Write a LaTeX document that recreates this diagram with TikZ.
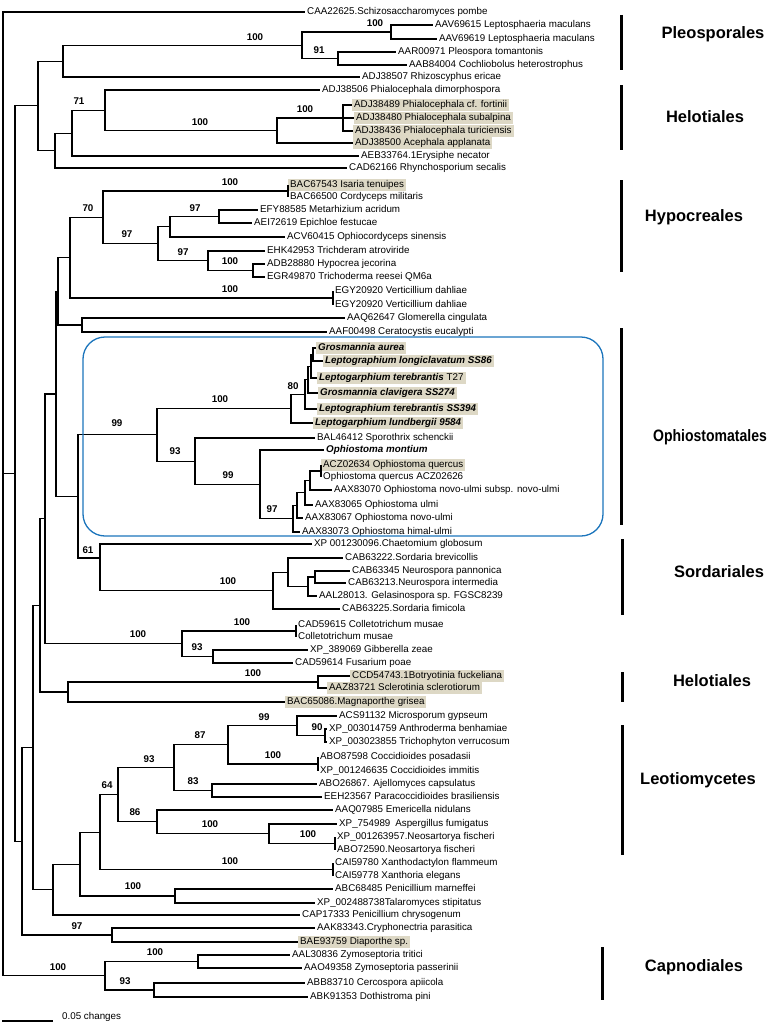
\documentclass[tikz,border=0pt]{standalone}
\usepackage{fontspec}
\setmainfont{Liberation Sans}
\usepackage{xcolor}
\usepackage{tikz}

\definecolor{hlbeige}{RGB}{221,216,197}
\definecolor{boxblue}{RGB}{28,117,188}

\tikzset{
  taxon/.style={anchor=west,inner xsep=2pt,inner ysep=1.6pt,text height=7.2pt,text depth=2.2pt,font=\fontsize{9.8}{11}\selectfont},
  taxonhl/.style={taxon,fill=hlbeige},
  boot/.style={inner sep=0pt,font=\fontsize{9.8}{11}\selectfont\bfseries},
  clade/.style={inner sep=0pt,font=\fontsize{16.5}{19}\selectfont\bfseries},
  branch/.style={line width=1.1pt},
  cladebar/.style={line width=3pt},
}

\begin{document}
\begin{tikzpicture}[x=1pt,y=-1pt]
\useasboundingbox (0,0) rectangle (774,1025);

% taxa
\node[taxon] (t1) at (305,12) {CAA22625.Schizosaccharomyces pombe};
\node[taxon] (t2) at (433,25) {AAV69615 Leptosphaeria maculans};
\node[taxon] (t3) at (437,39) {AAV69619 Leptosphaeria maculans};
\node[taxon] (t4) at (396,52) {AAR00971 Pleospora tomantonis};
\node[taxon] (t5) at (407,65) {AAB84004 Cochliobolus heterostrophus};
\node[taxon] (t6) at (360,77) {ADJ38507 Rhizoscyphus ericae};
\node[taxon] (t7) at (320,90) {ADJ38506 Phialocephala dimorphospora};
\node[taxonhl] (t8) at (352,105) {ADJ38489 Phialocephala cf. fortinii};
\node[taxonhl] (t9) at (354,118) {ADJ38480 Phialocephala subalpina};
\node[taxonhl] (t10) at (353,131) {ADJ38436 Phialocephala turiciensis};
\node[taxonhl] (t11) at (353,143) {ADJ38500 Acephala applanata};
\node[taxon] (t12) at (359,156) {AEB33764.1Erysiphe necator};
\node[taxon] (t13) at (347,168) {CAD62166 Rhynchosporium secalis};
\node[taxonhl] (t14) at (288,185) {BAC67543 Isaria tenuipes};
\node[taxon] (t15) at (288,197) {BAC66500 Cordyceps militaris};
\node[taxon] (t16) at (258,210) {EFY88585 Metarhizium acridum};
\node[taxon] (t17) at (252,223) {AEI72619 Epichloe festucae};
\node[taxon] (t18) at (285,237) {ACV60415 Ophiocordyceps sinensis};
\node[taxon] (t19) at (265,251) {EHK42953 Trichderam atroviride};
\node[taxon] (t20) at (265,264) {ADB28880 Hypocrea jecorina};
\node[taxon] (t21) at (265,277) {EGR49870 Trichoderma reesei QM6a};
\node[taxon] (t22) at (333,291) {EGY20920 Verticillium dahliae};
\node[taxon] (t23) at (333,305) {EGY20920 Verticillium dahliae};
\node[taxon] (t24) at (345,318) {AAQ62647 Glomerella cingulata};
\node[taxon] (t25) at (327,332) {AAF00498 Ceratocystis eucalypti};
\node[taxonhl] (t26) at (316,348) {\textbf{\textit{Grosmannia aurea}}};
\node[taxonhl] (t27) at (323,361) {\textbf{\textit{Leptographium longiclavatum SS86}}};
\node[taxonhl] (t28) at (317,378) {\textbf{\textit{Leptogarphium terebrantis}} T27};
\node[taxonhl] (t29) at (318,393) {\textbf{\textit{Grosmannia clavigera SS274}}};
\node[taxonhl] (t30) at (317,409) {\textbf{\textit{Leptographium terebrantis SS394}}};
\node[taxonhl] (t31) at (313,423) {\textbf{\textit{Leptogarphium lundbergii 9584}}};
\node[taxon] (t32) at (315,438) {BAL46412 Sporothrix schenckii};
\node[taxon] (t33) at (324,450) {\textbf{\textit{Ophiostoma montium}}};
\node[taxonhl] (t34) at (321,465) {ACZ02634 Ophiostoma quercus};
\node[taxon] (t35) at (321,477) {Ophiostoma quercus ACZ02626};
\node[taxon] (t36) at (332,490) {AAX83070 Ophiostoma novo-ulmi subsp. novo-ulmi};
\node[taxon] (t37) at (313,505) {AAX83065 Ophiostoma ulmi};
\node[taxon] (t38) at (303,518) {AAX83067 Ophiostoma novo-ulmi};
\node[taxon] (t39) at (300,532) {AAX83073 Ophiostoma himal-ulmi};
\node[taxon] (t40) at (312,544) {XP 001230096.Chaetomium globosum};
\node[taxon] (t41) at (343,558) {CAB63222.Sordaria brevicollis};
\node[taxon] (t42) at (350,571) {CAB63345 Neurospora pannonica};
\node[taxon] (t43) at (346,583) {CAB63213.Neurospora intermedia};
\node[taxon] (t44) at (317,596) {AAL28013. Gelasinospora sp. FGSC8239};
\node[taxon] (t45) at (340,609) {CAB63225.Sordaria fimicola};
\node[taxon] (t46) at (296,625) {CAD59615 Colletotrichum musae};
\node[taxon] (t47) at (296,637) {Colletotrichum musae};
\node[taxon] (t48) at (308,650) {XP\_389069 Gibberella zeae};
\node[taxon] (t49) at (293,663) {CAD59614 Fusarium poae};
\node[taxonhl] (t50) at (350,676) {CCD54743.1Botryotinia fuckeliana};
\node[taxonhl] (t51) at (327,688) {AAZ83721 Sclerotinia sclerotiorum};
\node[taxonhl] (t52) at (285,702) {BAC65086.Magnaporthe grisea};
\node[taxon] (t53) at (337,716) {ACS91132 Microsporum gypseum};
\node[taxon] (t54) at (327,729) {XP\_003014759 Anthroderma benhamiae};
\node[taxon] (t55) at (327,742) {XP\_003023855 Trichophyton verrucosum};
\node[taxon] (t56) at (318,757) {ABO87598 Coccidioides posadasii};
\node[taxon] (t57) at (318,771) {XP\_001246635 Coccidioides immitis};
\node[taxon] (t58) at (317,784) {ABO26867. Ajellomyces capsulatus};
\node[taxon] (t59) at (322,797) {EEH23567 Paracoccidioides brasiliensis};
\node[taxon] (t60) at (333,810) {AAQ07985 Emericella nidulans};
\node[taxon] (t61) at (337,824) {XP\_754989\hspace{0.5em}Aspergillus fumigatus};
\node[taxon] (t62) at (335,837) {XP\_001263957.Neosartorya fischeri};
\node[taxon] (t63) at (335,850) {ABO72590.Neosartorya fischeri};
\node[taxon] (t64) at (333,863) {CAI59780 Xanthodactylon flammeum};
\node[taxon] (t65) at (333,876) {CAI59778 Xanthoria elegans};
\node[taxon] (t66) at (333,889) {ABC68485 Penicillium marneffei};
\node[taxon] (t67) at (315,903) {XP\_002488738Talaromyces stipitatus};
\node[taxon] (t68) at (300,915) {CAP17333 Penicillium chrysogenum};
\node[taxon] (t69) at (315,928) {AAK83343.Cryphonectria parasitica};
\node[taxonhl] (t70) at (298,942) {BAE93759 Diaporthe sp.};
\node[taxon] (t71) at (290,955) {AAL30836 Zymoseptoria tritici};
\node[taxon] (t72) at (302,968) {AAO49358 Zymoseptoria passerinii};
\node[taxon] (t73) at (305,983) {ABB83710 Cercospora apiicola};
\node[taxon] (t74) at (308,997) {ABK91353 Dothistroma pini};

% internal nodes
\coordinate (root) at (3,493);
\coordinate (nA) at (15,473.5);
\coordinate (nB) at (38,105.8);
\coordinate (nP) at (63,61.1);
\coordinate (nPle) at (302,45.3);
\coordinate (nLep) at (391,32);
\coordinate (n91) at (338,58.5);
\coordinate (nQ) at (55,150.6);
\coordinate (n71) at (72,133.1);
\coordinate (nX) at (105,110.3);
\coordinate (n100c) at (277,130.5);
\coordinate (nTri) at (343,118);
\coordinate (nD) at (22,841.3);
\coordinate (nE) at (33,747.5);
\coordinate (n40) at (40,605.5);
\coordinate (n45) at (45,518.9);
\coordinate (n53) at (56,394);
\coordinate (n58) at (58,291.4);
\coordinate (nH) at (70,257.7);
\coordinate (n70) at (103,217.4);
\coordinate (nBac) at (288,191);
\coordinate (n97b) at (158,243.8);
\coordinate (n97a) at (170,226.8);
\coordinate (n97c) at (219,216.5);
\coordinate (n97d) at (208,260.8);
\coordinate (nHyp) at (253,270.5);
\coordinate (nEgy) at (333,298);
\coordinate (nGlo) at (82,325);
\coordinate (n61) at (78,496.5);
\coordinate (n99) at (157,434.9);
\coordinate (n100i) at (291,408.7);
\coordinate (n80) at (305,394.3);
\coordinate (nGb) at (308,379.6);
\coordinate (nGa) at (311,366.3);
\coordinate (nGa0) at (313,354.5);
\coordinate (n93) at (195,461.2);
\coordinate (n99b) at (260,484.4);
\coordinate (n97e) at (293,518.7);
\coordinate (nq3) at (297,505.4);
\coordinate (nq2) at (305,492.8);
\coordinate (nq1) at (310,480.5);
\coordinate (nQue) at (321,471);
\coordinate (nSord) at (100,558);
\coordinate (n100f) at (273,590.6);
\coordinate (ns3) at (288,572.3);
\coordinate (ns2) at (308,586.5);
\coordinate (ns1) at (315,577);
\coordinate (nCF) at (182,643.8);
\coordinate (nCol) at (296,631);
\coordinate (n93c) at (213,656.5);
\coordinate (nHel) at (68,692);
\coordinate (nBot) at (318,682);
\coordinate (nF) at (53,889.5);
\coordinate (nG) at (80,864.1);
\coordinate (n64) at (100,832.2);
\coordinate (n118) at (118,794.8);
\coordinate (n93b) at (174,767.7);
\coordinate (n87) at (228,744.9);
\coordinate (n99c) at (297,725.8);
\coordinate (n90) at (325,735.5);
\coordinate (nCoc) at (318,764);
\coordinate (n83) at (212,790.5);
\coordinate (n86) at (157,821.9);
\coordinate (n100k) at (269,833.8);
\coordinate (nNeo) at (335,843.5);
\coordinate (nCai) at (333,869.5);
\coordinate (nPen) at (175,896);
\coordinate (n97) at (112,935);
\coordinate (nC) at (105,975.8);
\coordinate (nZym) at (198,961.5);
\coordinate (n93d) at (154,990);

% branches
\draw[branch] (root) |- (t1) (root) |- (nA) (root) |- (nC);
\draw[branch] (nA) |- (nB) (nA) |- (nD);
\draw[branch] (nB) |- (nP) (nB) |- (nQ);
\draw[branch] (nP) |- (nPle) (nP) |- (t6);
\draw[branch] (nPle) |- (nLep) (nPle) |- (n91);
\draw[branch] (nLep) |- (t2) (nLep) |- (t3);
\draw[branch] (n91) |- (t4) (n91) |- (t5);
\draw[branch] (nQ) |- (n71) (nQ) |- (t13);
\draw[branch] (n71) |- (nX) (n71) |- (t12);
\draw[branch] (nX) |- (t7) (nX) |- (n100c);
\draw[branch] (n100c) |- (nTri) (n100c) |- (t11);
\draw[branch] (nTri) |- (t8) (nTri) |- (t9) (nTri) |- (t10);
\draw[branch] (nD) |- (nE) (nD) |- (n97);
\draw[branch] (n97) |- (t69) (n97) |- (t70);
\draw[branch] (nE) |- (n40) (nE) |- (nF);
\draw[branch] (n40) |- (n45) (n40) |- (nHel);
\draw[branch] (nHel) |- (nBot) (nHel) |- (t52);
\draw[branch] (nBot) |- (t50) (nBot) |- (t51);
\draw[branch] (n45) |- (n53) (n45) |- (nCF);
\draw[branch] (nCF) |- (nCol) (nCF) |- (n93c);
\draw[branch] (nCol) |- (t46) (nCol) |- (t47);
\draw[branch] (n93c) |- (t48) (n93c) |- (t49);
\draw[branch] (n53) |- (n58) (n53) |- (n61);
\draw[branch] (n58) |- (nH) (n58) |- (nGlo);
\draw[branch] (nGlo) |- (t24) (nGlo) |- (t25);
\draw[branch] (nH) |- (n70) (nH) |- (nEgy);
\draw[branch] (nEgy) |- (t22) (nEgy) |- (t23);
\draw[branch] (n70) |- (nBac) (n70) |- (n97b);
\draw[branch] (nBac) |- (t14) (nBac) |- (t15);
\draw[branch] (n97b) |- (n97a) (n97b) |- (n97d);
\draw[branch] (n97a) |- (n97c) (n97a) |- (t18);
\draw[branch] (n97c) |- (t16) (n97c) |- (t17);
\draw[branch] (n97d) |- (t19) (n97d) |- (nHyp);
\draw[branch] (nHyp) |- (t20) (nHyp) |- (t21);
\draw[branch] (n61) |- (n99) (n61) |- (nSord);
\draw[branch] (n99) |- (n100i) (n99) |- (n93);
\draw[branch] (n100i) |- (n80) (n100i) |- (t31);
\draw[branch] (n80) |- (nGb) (n80) |- (t30);
\draw[branch] (nGb) |- (nGa) (nGb) |- (t29);
\draw[branch] (nGa) |- (nGa0) (nGa) |- (t28);
\draw[branch] (nGa0) |- (t26) (nGa0) |- (t27);
\draw[branch] (n93) |- (t32) (n93) |- (n99b);
\draw[branch] (n99b) |- (t33) (n99b) |- (n97e);
\draw[branch] (n97e) |- (nq3) (n97e) |- (t39);
\draw[branch] (nq3) |- (nq2) (nq3) |- (t38);
\draw[branch] (nq2) |- (nq1) (nq2) |- (t37);
\draw[branch] (nq1) |- (nQue) (nq1) |- (t36);
\draw[branch] (nQue) |- (t34) (nQue) |- (t35);
\draw[branch] (nSord) |- (t40) (nSord) |- (n100f);
\draw[branch] (n100f) |- (ns3) (n100f) |- (t45);
\draw[branch] (ns3) |- (t41) (ns3) |- (ns2);
\draw[branch] (ns2) |- (ns1) (ns2) |- (t44);
\draw[branch] (ns1) |- (t42) (ns1) |- (t43);
\draw[branch] (nF) |- (nG) (nF) |- (t68);
\draw[branch] (nG) |- (n64) (nG) |- (nPen);
\draw[branch] (nPen) |- (t66) (nPen) |- (t67);
\draw[branch] (n64) |- (n118) (n64) |- (nCai);
\draw[branch] (nCai) |- (t64) (nCai) |- (t65);
\draw[branch] (n118) |- (n93b) (n118) |- (n86);
\draw[branch] (n93b) |- (n87) (n93b) |- (n83);
\draw[branch] (n87) |- (n99c) (n87) |- (nCoc);
\draw[branch] (n99c) |- (t53) (n99c) |- (n90);
\draw[branch] (n90) |- (t54) (n90) |- (t55);
\draw[branch] (nCoc) |- (t56) (nCoc) |- (t57);
\draw[branch] (n83) |- (t58) (n83) |- (t59);
\draw[branch] (n86) |- (t60) (n86) |- (n100k);
\draw[branch] (n100k) |- (t61) (n100k) |- (nNeo);
\draw[branch] (nNeo) |- (t62) (nNeo) |- (t63);
\draw[branch] (nC) |- (nZym) (nC) |- (n93d);
\draw[branch] (nZym) |- (t71) (nZym) |- (t72);
\draw[branch] (n93d) |- (t73) (n93d) |- (t74);

% bootstrap values
\node[boot] (bs1) at (255,37) {100};
\node[boot] (bs2) at (375,23) {100};
\node[boot] (bs3) at (319,50) {91};
\node[boot] (bs4) at (79,101) {71};
\node[boot] (bs5) at (200,122) {100};
\node[boot] (bs6) at (305,109) {100};
\node[boot] (bs7) at (230,182) {100};
\node[boot] (bs8) at (88,208) {70};
\node[boot] (bs9) at (195,208) {97};
\node[boot] (bs10) at (127,234) {97};
\node[boot] (bs11) at (183,252) {97};
\node[boot] (bs12) at (230,261) {100};
\node[boot] (bs13) at (230,289) {100};
\node[boot] (bs14) at (220,399) {100};
\node[boot] (bs15) at (293,386) {80};
\node[boot] (bs16) at (117,423) {99};
\node[boot] (bs17) at (175,451) {93};
\node[boot] (bs18) at (228,475) {99};
\node[boot] (bs19) at (272,509) {97};
\node[boot] (bs20) at (88,550) {61};
\node[boot] (bs21) at (228,581) {100};
\node[boot] (bs22) at (242,622) {100};
\node[boot] (bs23) at (138,634) {100};
\node[boot] (bs24) at (197,647) {93};
\node[boot] (bs25) at (253,673) {100};
\node[boot] (bs26) at (264,717) {99};
\node[boot] (bs27) at (317,727) {90};
\node[boot] (bs28) at (200,735) {87};
\node[boot] (bs29) at (273,755) {100};
\node[boot] (bs30) at (149,759) {93};
\node[boot] (bs31) at (193,781) {83};
\node[boot] (bs32) at (107,785) {64};
\node[boot] (bs33) at (135,812) {86};
\node[boot] (bs34) at (210,824) {100};
\node[boot] (bs35) at (308,834) {100};
\node[boot] (bs36) at (230,861) {100};
\node[boot] (bs37) at (133,886) {100};
\node[boot] (bs38) at (77,926) {97};
\node[boot] (bs39) at (155,952) {100};
\node[boot] (bs40) at (58,967) {100};
\node[boot] (bs41) at (125,981) {93};

% Ophiostomatales box
\draw[boxblue,line width=1.3pt,rounded corners=22pt] (83,337) rectangle (603,536);

% clade bars and names
\coordinate (g1a) at (621,15);  \coordinate (g1b) at (621,70);
\coordinate (g2a) at (621,85);  \coordinate (g2b) at (621,150);
\coordinate (g3a) at (621,180); \coordinate (g3b) at (621,272);
\coordinate (g4a) at (621,328); \coordinate (g4b) at (621,525);
\coordinate (g5a) at (622,539); \coordinate (g5b) at (622,615);
\coordinate (g6a) at (622,672); \coordinate (g6b) at (622,702);
\coordinate (g7a) at (622,725); \coordinate (g7b) at (622,855);
\coordinate (g8a) at (602,947); \coordinate (g8b) at (602,1000);
\draw[cladebar] (g1a) -- (g1b) (g2a) -- (g2b) (g3a) -- (g3b) (g4a) -- (g4b)
  (g5a) -- (g5b) (g6a) -- (g6b) (g7a) -- (g7b) (g8a) -- (g8b);
\node[clade] (g1) at (713,34) {Pleosporales};
\node[clade] (g2) at (705,117) {Helotiales};
\node[clade] (g3) at (694,217) {Hypocreales};
\node[clade,xscale=0.85] (g4) at (710,437) {Ophiostomatales};
\node[clade] (g5) at (719,572) {Sordariales};
\node[clade] (g6) at (712,681) {Helotiales};
\node[clade] (g7) at (698,780) {Leotiomycetes};
\node[clade] (g8) at (694,967) {Capnodiales};

% scale bar
\coordinate (sb1) at (2,1021);
\coordinate (sb2) at (53,1021);
\draw[branch] (sb1) -- (sb2);
\node[taxon] (sbl) at (60,1017) {0.05 changes};
\end{tikzpicture}
\end{document}
